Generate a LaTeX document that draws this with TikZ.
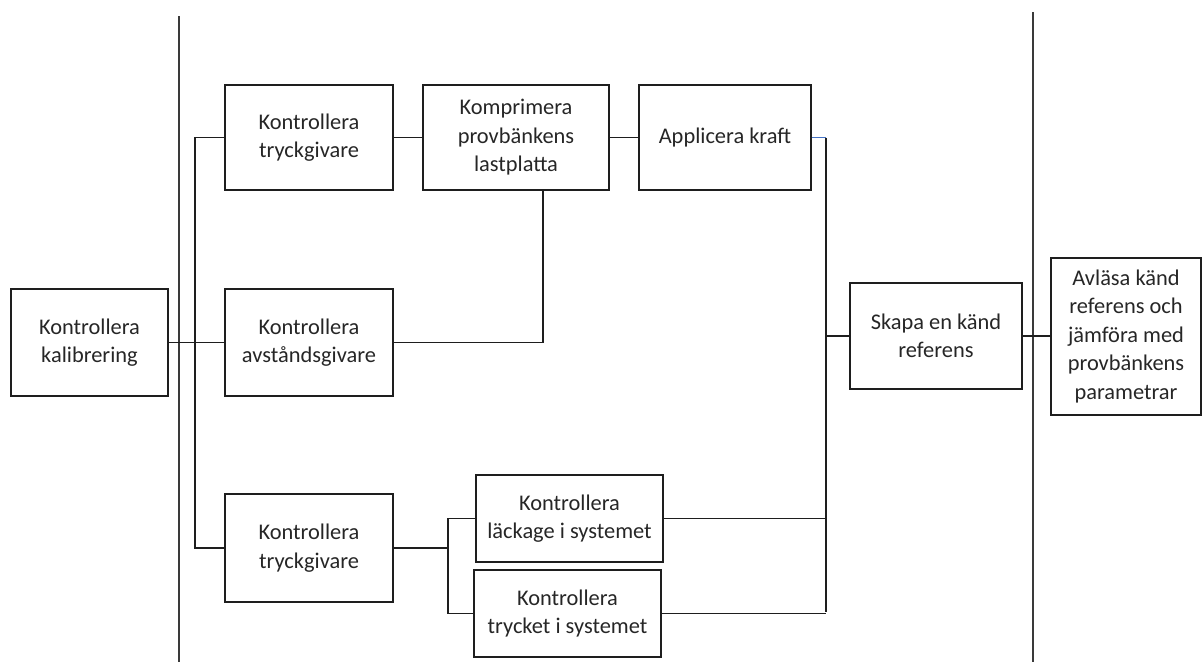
\documentclass[tikz,border=0pt]{standalone}
\usepackage{fontspec}
\setmainfont{Carlito}
\usetikzlibrary{calc}
\definecolor{ink}{HTML}{262626}
\definecolor{wire}{HTML}{1E1E1E}
\definecolor{sep}{HTML}{3A3A3A}
\definecolor{linkblue}{HTML}{4472C4}
\begin{document}
\begin{tikzpicture}[x=1pt,y=-1pt,
  box/.style={draw=wire,line width=1.3pt,rectangle,align=center,inner sep=2pt,
    text=ink,font=\fontsize{22.4}{28.5}\selectfont},
  wireline/.style={draw=wire,line width=1.3pt},
  sepline/.style={draw=sep,line width=1.6pt}]
\useasboundingbox (0,0) rectangle (1203,662);

% phase separators
\coordinate (s1a) at (179,16);
\coordinate (s1b) at (179,662);
\coordinate (s2a) at (1033,12);
\coordinate (s2b) at (1033,662);
\draw[sepline] (s1a) -- (s1b);
\draw[sepline] (s2a) -- (s2b);

% activities
\node[box,minimum width=157pt,minimum height=107pt] (kal) at (89.5,342.5) {Kontrollera\\kalibrering};
\node[box,minimum width=168pt,minimum height=105pt] (t1) at (309,137.5) {Kontrollera\\tryckgivare};
\node[box,minimum width=186pt,minimum height=105pt] (komp) at (516,137.5) {Komprimera\\provbänkens\\lastplatta};
\node[box,minimum width=172pt,minimum height=105pt] (appl) at (725,137.5) {Applicera kraft};
\node[box,minimum width=168pt,minimum height=107pt] (avst) at (309,342.5) {Kontrollera\\avståndsgivare};
\node[box,minimum width=168pt,minimum height=108pt] (t2) at (309,548) {Kontrollera\\tryckgivare};
\node[box,minimum width=187pt,minimum height=87pt] (lack) at (569.5,518.5) {Kontrollera\\läckage i systemet};
\node[box,minimum width=187pt,minimum height=87pt] (tryck) at (567.5,613.5) {Kontrollera\\trycket i systemet};
\node[box,minimum width=172pt,minimum height=106pt] (skapa) at (936,336) {Skapa en känd\\referens};
\node[box,minimum width=150pt,minimum height=157pt] (avl) at (1126,336.5) {Avläsa känd\\referens och\\jämföra med\\provbänkens\\parametrar};

% junction points
\coordinate (bus) at (195,137.5);
\coordinate (kd) at (543,190);
\coordinate (rt) at (826,137.5);
\coordinate (rb) at (826,612);
\coordinate (jn) at (448,548);

% connectors
\draw[wireline] (kal.east) -- (avst.west);
\draw[wireline] (t1.west) -- (bus) |- (t2.west);
\draw[wireline] (t1.east) -- (komp.west);
\draw[wireline] (komp.east) -- (appl.west);
\draw[wireline] (kd) |- (avst.east);
\draw[draw=linkblue,line width=1.2pt] (appl.east) -- (rt);
\draw[wireline] (rt) -- (rb);
\draw[wireline] (skapa.west) -- (skapa.west -| rt);
\draw[wireline] (lack.east) -- (lack.east -| rt);
\draw[wireline] (tryck.east) -- (tryck.east -| rt);
\draw[wireline] (t2.east) -- (jn);
\draw[wireline] (lack.west) -| (jn) |- (tryck.west);
\draw[wireline] (skapa.east) -- (skapa.east -| avl.west);
\end{tikzpicture}
\end{document}
